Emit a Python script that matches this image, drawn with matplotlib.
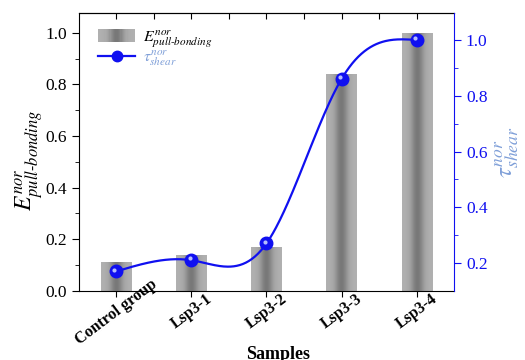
import numpy as np
import matplotlib
matplotlib.use("Agg")
import matplotlib.pyplot as plt
from matplotlib.patches import Rectangle
from matplotlib.legend_handler import HandlerBase
from matplotlib.lines import Line2D
import matplotlib.transforms as mtransforms

categories = ["Control group", "Lsp3-1", "Lsp3-2", "Lsp3-3", "Lsp3-4"]
e_pull = [0.11, 0.14, 0.17, 0.84, 1.0]
tau_shear = [0.17, 0.21, 0.27, 0.86, 1.0]

plt.rcParams['font.family'] = ['Liberation Serif', 'DejaVu Serif']
plt.rcParams['mathtext.fontset'] = 'stix'

BLUE = '#1010f0'
LBLUE = '#7f9fd8'


def natural_spline(x, y, xs):
    x = np.asarray(x, float); y = np.asarray(y, float)
    n = len(x)
    h = np.diff(x)
    A = np.zeros((n, n)); b = np.zeros(n)
    A[0, 0] = 1; A[-1, -1] = 1
    for i in range(1, n - 1):
        A[i, i - 1] = h[i - 1]
        A[i, i] = 2 * (h[i - 1] + h[i])
        A[i, i + 1] = h[i]
        b[i] = 6 * ((y[i + 1] - y[i]) / h[i] - (y[i] - y[i - 1]) / h[i - 1])
    M = np.linalg.solve(A, b)
    out = np.empty_like(xs)
    for k, t in enumerate(xs):
        i = min(max(np.searchsorted(x, t) - 1, 0), n - 2)
        a = x[i + 1] - t; c = t - x[i]
        out[k] = (M[i] * a**3 + M[i + 1] * c**3) / (6 * h[i]) + \
            (y[i] / h[i] - M[i] * h[i] / 6) * a + (y[i + 1] / h[i] - M[i + 1] * h[i] / 6) * c
    return out


def grad_colors(n=40):
    t = np.linspace(-1, 1, n)
    v = 0.69 - 0.22 * np.exp(-(t / 0.42) ** 2)
    return v


fig = plt.figure(figsize=(5.25, 3.6), dpi=100)
ax = fig.add_axes([0.150, 0.192, 0.715, 0.772])
x = np.arange(len(categories))
width = 0.4

bars = ax.bar(x, e_pull, width, color='none', edgecolor='none', zorder=2)
g = grad_colors(60)
for bar in bars:
    im = ax.imshow(g[None, :], cmap='gray', vmin=0, vmax=1, aspect='auto',
                   extent=[bar.get_x(), bar.get_x() + bar.get_width(), 0, bar.get_height()],
                   zorder=2, interpolation='bilinear')
    im.set_clip_path(bar)

ax.set_xlim(-0.5, 4.5)
ax.set_ylim(0, 1.077)
ax.set_yticks(np.arange(0, 1.01, 0.2))
ax.set_yticks(np.arange(0.1, 1.01, 0.2), minor=True)
ax.yaxis.set_major_formatter(matplotlib.ticker.FormatStrFormatter('%.1f'))
ax.set_xticks(x)
ax.set_xticklabels(categories, rotation=37, ha='center', va='center',
                   rotation_mode='anchor', fontweight='bold', fontsize=11.5)
ax.tick_params(axis='x', which='both', direction='out', length=4, pad=11, top=False)
ax.tick_params(axis='y', which='major', direction='out', length=5, labelsize=12.5)
ax.tick_params(axis='y', which='minor', direction='out', length=3)
ax.spines['right'].set_visible(False)

sec = ax.secondary_xaxis('top')
sec.set_xticks(np.arange(0, 4.01, 0.5))
sec.tick_params(direction='in', length=4, labeltop=False)
sec.set_xticklabels([])

ax.set_xlabel('Samples', fontweight='bold', fontsize=13)
ax.xaxis.set_label_coords(0.53, -0.197)
ax.set_ylabel(r'$E^{nor}_{pull\text{-}bonding}$', fontsize=17)
ax.yaxis.set_label_coords(-0.088, 0.47)

ax2 = ax.twinx()
ax2.set_ylim(0.1, 1.097)
xs = np.linspace(0, 4, 300)
ys = natural_spline(x, tau_shear, xs)
ax2.plot(xs, ys, color=BLUE, lw=1.6, zorder=3)
ax2.plot(x, tau_shear, 'o', color=BLUE, ms=9, mec=BLUE, zorder=4)
hl = mtransforms.offset_copy(ax2.transData, fig=fig, x=-1.3, y=1.3, units='points')
ax2.plot(x, tau_shear, 'o', color='#c8d0ff', ms=3, mec='none', alpha=0.9,
         transform=hl, zorder=5)
ax2.set_yticks([0.2, 0.4, 0.6, 0.8, 1.0])
ax2.set_yticks([0.3, 0.5, 0.7, 0.9], minor=True)
ax2.yaxis.set_major_formatter(matplotlib.ticker.FormatStrFormatter('%.1f'))
ax2.tick_params(axis='y', which='major', direction='out', length=5, colors=BLUE, labelsize=12.5)
ax2.tick_params(axis='y', which='minor', direction='out', length=3, colors=BLUE)
for s in ['left', 'top', 'bottom']:
    ax2.spines[s].set_visible(False)
ax2.spines['right'].set_color(BLUE)
ax2.set_ylabel(r'$\tau^{nor}_{shear}$', fontsize=18, color=LBLUE)
ax2.yaxis.set_label_coords(1.105, 0.5)


class GradHandler(HandlerBase):
    def create_artists(self, legend, orig_handle, xdescent, ydescent, width, height, fontsize, trans):
        arts = []
        n = 30
        vals = grad_colors(n)
        w = width / n
        hh = height * 1.15
        y0 = -ydescent - (hh - height) / 2
        for i, v in enumerate(vals):
            r = Rectangle((-xdescent + i * w, y0), w * 1.05, hh,
                          facecolor=(v, v, v), edgecolor='none', transform=trans)
            arts.append(r)
        return arts


proxy_bar = Rectangle((0, 0), 1, 1)
proxy_line = Line2D([], [], color=BLUE, lw=1.6, marker='o', ms=7.5)
leg = ax.legend([proxy_bar, proxy_line],
                [r'$E^{nor}_{pull\text{-}bonding}$', r'$\tau^{nor}_{shear}$'],
                handler_map={Rectangle: GradHandler()},
                loc='upper left', bbox_to_anchor=(0.035, 0.968), borderaxespad=0,
                frameon=False, fontsize=11.5, handlelength=2.3, handletextpad=0.5,
                labelspacing=-0.05)
leg.get_texts()[1].set_color(LBLUE)

fig.savefig('out.png', dpi=100)
